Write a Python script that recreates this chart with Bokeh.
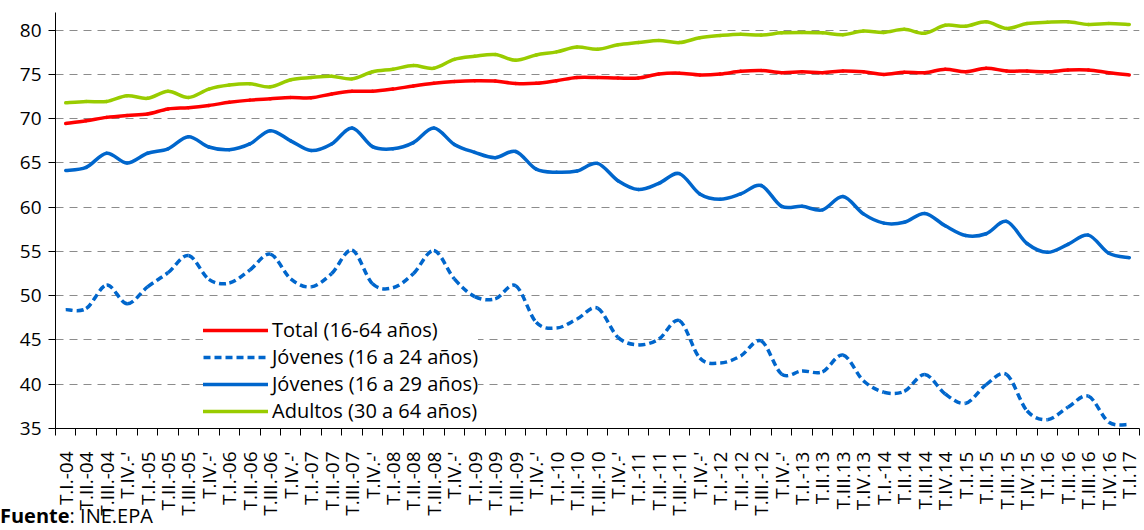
from bokeh.plotting import figure
from bokeh.models import FixedTicker, Legend, LegendItem, Range1d, Div
from bokeh.layouts import column
from bokeh.embed import file_html
from bokeh.resources import INLINE

categories = [
    "T.I.-04", "T.II.-04", "T.III.-04", "T.IV.-'",
    "T.I.-05", "T.II.-05", "T.III.-05", "T.IV.-'",
    "T.I.-06", "T.II.-06", "T.III.-06", "T.IV.-'",
    "T.I.-07", "T.II.-07", "T.III.-07", "T.IV.-'",
    "T.I.-08", "T.II.-08", "T.III.-08", "T.IV.-'",
    "T.I.-09", "T.II.-09", "T.III.-09", "T.IV.-'",
    "T.I.-10", "T.II.-10", "T.III.-10", "T.IV.-'",
    "T.I.-11", "T.II.-11", "T.III.-11", "T.IV.-'",
    "T.I.-12", "T.II.-12", "T.III.-12", "T.IV.-'",
    "T.I.-13", "T.II.13", "T.III.13", "T.IV.13",
    "T.I.-14", "T.II.14", "T.III.14", "T.IV.14",
    "T.I.15", "T.II.15", "T.III.15", "T.IV.15",
    "T.I.16", "T.II.16", "T.III.16", "T.IV.16",
    "T.I.17",
]

total = [69.47, 69.77, 70.15, 70.37, 70.53, 71.1, 71.25, 71.5, 71.85, 72.1,
         72.25, 72.4, 72.37, 72.8, 73.1, 73.1, 73.35, 73.7, 74.0, 74.2,
         74.3, 74.25, 73.97, 74.0, 74.3, 74.65, 74.65, 74.6, 74.6, 75.05,
         75.15, 74.95, 75.05, 75.35, 75.45, 75.2, 75.3, 75.2, 75.4, 75.3,
         75.0, 75.25, 75.2, 75.6, 75.3, 75.7, 75.4, 75.38, 75.3, 75.5,
         75.5, 75.2, 74.95]

jovenes_16_24 = [48.43, 48.55, 51.2, 49.1, 51.0, 52.6, 54.55, 51.85, 51.43, 52.9,
                 54.7, 51.9, 51.0, 52.5, 55.15, 51.35, 50.9, 52.5, 55.1, 51.9,
                 49.9, 49.65, 51.13, 47.0, 46.35, 47.37, 48.6, 45.3, 44.45, 45.1,
                 47.2, 42.97, 42.4, 43.2, 44.9, 41.15, 41.5, 41.4, 43.3, 40.4,
                 39.1, 39.2, 41.1, 38.9, 37.85, 39.95, 41.1, 37.0, 36.0, 37.4,
                 38.65, 35.7, 35.45]

jovenes_16_29 = [64.14, 64.5, 66.1, 65.0, 66.1, 66.6, 67.97, 66.8, 66.5, 67.15,
                 68.65, 67.5, 66.4, 67.15, 68.95, 66.85, 66.6, 67.3, 68.95, 67.1,
                 66.2, 65.6, 66.3, 64.3, 63.95, 64.1, 64.95, 63.0, 62.0, 62.7,
                 63.8, 61.5, 60.9, 61.5, 62.45, 60.1, 60.1, 59.7, 61.2, 59.25,
                 58.2, 58.3, 59.3, 57.9, 56.8, 57.0, 58.4, 55.9, 54.9, 55.8,
                 56.85, 54.8, 54.3]

adultos = [71.8, 71.95, 71.95, 72.6, 72.3, 73.1, 72.4, 73.35, 73.8, 73.95,
           73.6, 74.4, 74.65, 74.8, 74.5, 75.3, 75.6, 76.0, 75.7, 76.7,
           77.05, 77.25, 76.6, 77.2, 77.55, 78.1, 77.85, 78.35, 78.6, 78.85,
           78.6, 79.15, 79.4, 79.55, 79.45, 79.7, 79.75, 79.7, 79.5, 79.9,
           79.75, 80.1, 79.65, 80.55, 80.45, 80.95, 80.2, 80.75, 80.9, 80.95,
           80.65, 80.75, 80.65]

series_names = ["Total (16-64 años)", "Jóvenes (16 a 24 años)",
                "Jóvenes (16 a 29 años)", "Adultos (30 a 64 años)"]
y_ticks = [35, 40, 45, 50, 55, 60, 65, 70, 75, 80]
y_min, y_max = 35, 82

FONT = "Open Sans"
n = len(categories)
xs = list(range(n))


def smooth_segments(xv, yv):
    """Cubic Bezier control points (Catmull-Rom style) between consecutive data points."""
    m = len(xv)
    d = dict(x0=[], y0=[], x1=[], y1=[], cx0=[], cy0=[], cx1=[], cy1=[])
    for i in range(m - 1):
        a = max(i - 1, 0)
        b = min(i + 2, m - 1)
        d["x0"].append(xv[i]); d["y0"].append(yv[i])
        d["x1"].append(xv[i + 1]); d["y1"].append(yv[i + 1])
        d["cx0"].append(xv[i] + (xv[i + 1] - xv[a]) / 6.0)
        d["cy0"].append(yv[i] + (yv[i + 1] - yv[a]) / 6.0)
        d["cx1"].append(xv[i + 1] - (xv[b] - xv[i]) / 6.0)
        d["cy1"].append(yv[i + 1] - (yv[b] - yv[i]) / 6.0)
    return d


p = figure(width=1144, height=522, output_backend="svg", toolbar_location=None,
           x_range=Range1d(-0.5, n - 0.5), y_range=Range1d(y_min, y_max),
           min_border_left=55, min_border_right=5, min_border_top=12,
           min_border_bottom=94)
p.outline_line_color = None
p.background_fill_color = "white"
p.border_fill_color = "white"

r_adu = p.bezier(**smooth_segments(xs, adultos), line_color="#99CC00",
                 line_width=3.5, line_cap="round")
r_tot = p.bezier(**smooth_segments(xs, total), line_color="#FF0000",
                 line_width=3.5, line_cap="round")
r_j29 = p.bezier(**smooth_segments(xs, jovenes_16_29), line_color="#0066CC",
                 line_width=3.5, line_cap="round")
r_j24 = p.bezier(**smooth_segments(xs, jovenes_16_24), line_color="#0066CC",
                 line_width=3.5, line_dash="7 4", line_cap="butt")

# x axis
xa = p.xaxis[0]
xa.ticker = FixedTicker(ticks=xs, minor_ticks=[i - 0.5 for i in range(n + 1)])
xa.major_label_overrides = {i: c for i, c in enumerate(categories)}
xa.major_label_orientation = 3.141592653589793 / 2
xa.major_tick_out = 0
xa.major_tick_in = 0
xa.minor_tick_out = 7
xa.minor_tick_in = 0
xa.minor_tick_line_color = "black"
xa.axis_line_color = "black"
xa.major_label_standoff = 16
xa.major_label_text_font = FONT
xa.major_label_text_font_size = "19px"
xa.major_label_text_color = "black"
p.xgrid.visible = False

# y axis
ya = p.yaxis[0]
ya.ticker = FixedTicker(ticks=y_ticks)
ya.major_tick_out = 7
ya.major_tick_in = 0
ya.minor_tick_line_color = None
ya.major_tick_line_color = "black"
ya.axis_line_color = "black"
ya.major_label_standoff = 7
ya.major_label_text_font = FONT
ya.major_label_text_font_size = "19px"
ya.major_label_text_color = "black"
p.ygrid.ticker = FixedTicker(ticks=y_ticks)
p.ygrid.grid_line_color = "#8C8C8C"
p.ygrid.grid_line_dash = "8 6"
p.ygrid.grid_line_width = 1

legend = Legend(items=[
    LegendItem(label=series_names[0], renderers=[r_tot]),
    LegendItem(label=series_names[1], renderers=[r_j24]),
    LegendItem(label=series_names[2], renderers=[r_j29]),
    LegendItem(label=series_names[3], renderers=[r_adu]),
], location=(148, 4))
legend.border_line_color = None
legend.background_fill_color = "white"
legend.background_fill_alpha = 1
legend.padding = 10
legend.margin = 0
legend.spacing = 0
legend.label_height = 26
legend.glyph_height = 26
legend.glyph_width = 65
legend.label_standoff = 4
legend.label_text_font = FONT
legend.label_text_font_size = "20px"
legend.label_text_color = "black"
p.add_layout(legend)

source_note = Div(
    text='<span style="font-family:\'Open Sans\';font-size:20px;line-height:24px;'
         'color:black;white-space:nowrap"><b>Fuente</b>: INE.EPA</span>',
    width=300, height=24, margin=(-18, 0, 0, 0))

layout = column(p, source_note, spacing=0)

open("out.html", "w").write(file_html(layout, INLINE))
